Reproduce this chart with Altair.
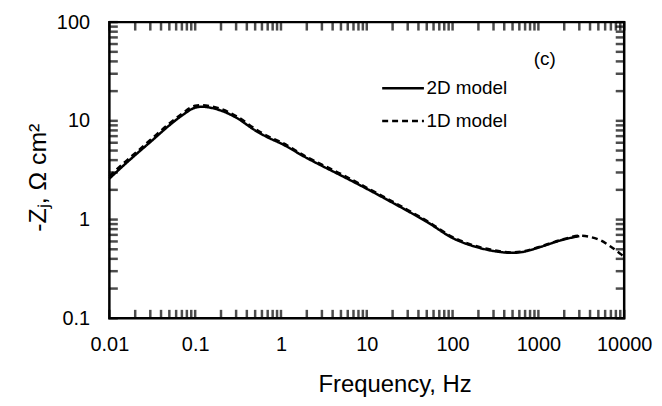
import altair as alt
import pandas as pd

# ---- data ----
freq_2d = [0.01, 0.015, 0.02, 0.03, 0.05, 0.07, 0.1, 0.12, 0.15, 0.2, 0.3, 0.5, 0.7,
           1, 2, 3, 5, 10, 20, 30, 50, 100, 200, 300, 500, 700, 1000, 2000, 3000]
z_2d = [2.6, 3.6, 4.5, 6.1, 9.0, 11.3, 13.6, 13.9, 13.6, 12.7, 10.8, 8.0, 6.8,
        5.9, 4.2, 3.5, 2.8, 2.05, 1.48, 1.22, 0.95, 0.65, 0.52, 0.48, 0.46, 0.475, 0.52, 0.63, 0.68]

freq_1d = [0.01, 0.015, 0.02, 0.03, 0.05, 0.07, 0.1, 0.12, 0.15, 0.2, 0.3, 0.5, 0.7,
           1, 2, 3, 5, 10, 20, 30, 50, 100, 200, 300, 500, 700, 1000, 2000, 3000,
           5000, 7000, 10000]
z_1d = [2.75, 3.8, 4.7, 6.4, 9.4, 11.8, 14.2, 14.4, 14.1, 13.2, 11.2, 8.3, 7.0,
        6.1, 4.3, 3.6, 2.9, 2.1, 1.52, 1.25, 0.97, 0.665, 0.53, 0.49, 0.465, 0.48, 0.525, 0.635, 0.685,
        0.63, 0.53, 0.42]

model_names = ["2D model", "1D model"]

# tick values
x_major = [0.01, 0.1, 1, 10, 100, 1000, 10000]
y_major = [0.1, 1, 10, 100]
x_minor = [0.02, 0.03, 0.04, 0.05, 0.06, 0.07, 0.08, 0.09,
           0.2, 0.3, 0.4, 0.5, 0.6, 0.7, 0.8, 0.9,
           2, 3, 4, 5, 6, 7, 8, 9,
           20, 30, 40, 50, 60, 70, 80, 90,
           200, 300, 400, 500, 600, 700, 800, 900,
           2000, 3000, 4000, 5000, 6000, 7000, 8000, 9000]
y_minor = [0.2, 0.3, 0.4, 0.5, 0.6, 0.7, 0.8, 0.9,
           2, 3, 4, 5, 6, 7, 8, 9,
           20, 30, 40, 50, 60, 70, 80, 90]

W, H = 518, 298

df = pd.concat([
    pd.DataFrame({"f": freq_2d, "z": z_2d, "model": model_names[0]}),
    pd.DataFrame({"f": freq_1d, "z": z_1d, "model": model_names[1]}),
], ignore_index=True)
xt = pd.DataFrame({"v": x_major + x_minor})
yt = pd.DataFrame({"v": y_major + y_minor})

xs = alt.Scale(type="log", domain=[0.01, 10000], nice=False)
ys = alt.Scale(type="log", domain=[0.1, 100], nice=False)

FONT = "Liberation Sans"

lines = alt.Chart(df).mark_line(color="black", strokeWidth=2.5, interpolate="monotone").encode(
    x=alt.X("f:Q", scale=xs, axis=alt.Axis(
        orient="bottom", values=x_major, format="~g", ticks=False, domain=False, grid=False,
        labelFlush=False, labelFontSize=20, labelFont=FONT, labelColor="black", labelPadding=16,
        title="Frequency, Hz", titleFont=FONT, titleFontSize=24, titleFontWeight="normal",
        titleColor="black", titleX=287, titleY=74, titleAlign="center", titleBaseline="alphabetic")),
    y=alt.Y("z:Q", scale=ys, axis=alt.Axis(
        orient="left", values=y_major, format="~g", ticks=False, domain=False, grid=False,
        labelFlush=False, labelFontSize=20, labelFont=FONT, labelColor="black", labelPadding=20,
        title="-Zⱼ, Ω cm²", titleFont=FONT, titleFontSize=25, titleFontWeight="normal",
        titleColor="black", titleX=-72, titleY=156, titleAngle=270,
        titleAlign="center", titleBaseline="middle")),
    strokeDash=alt.StrokeDash("model:N", scale=alt.Scale(domain=model_names, range=[[1, 0], [6, 4]]),
                              legend=alt.Legend(
                                  title=None, orient="none", legendX=273, legendY=44,
                                  symbolType="stroke", symbolSize=1764, symbolStrokeWidth=2.5,
                                  symbolStrokeColor="black", labelOffset=1, labelFont=FONT,
                                  labelFontSize=19, labelColor="black", rowPadding=0, padding=0)),
    order=alt.Order("model:N", sort="descending"),
)

# inward ticks on all four sides, placed through the shared log scales
ticks_bottom = alt.Chart(xt).mark_tick(color="black", thickness=2.5, size=9, orient="vertical").encode(
    x=alt.X("v:Q", scale=xs, axis=None), y=alt.value(H - 4))
ticks_top = alt.Chart(xt).mark_tick(color="black", thickness=2.5, size=9, orient="vertical").encode(
    x=alt.X("v:Q", scale=xs, axis=None), y=alt.value(4))
ticks_left = alt.Chart(yt).mark_tick(color="black", thickness=2.5, size=9, orient="horizontal").encode(
    y=alt.Y("v:Q", scale=ys, axis=None), x=alt.value(4))
ticks_right = alt.Chart(yt).mark_tick(color="black", thickness=2.5, size=9, orient="horizontal").encode(
    y=alt.Y("v:Q", scale=ys, axis=None), x=alt.value(W - 4))

panel_label = alt.Chart(pd.DataFrame({"t": ["(c)"]})).mark_text(
    font=FONT, fontSize=19, color="black", align="center", baseline="middle"
).encode(text="t:N", x=alt.value(438), y=alt.value(37))

chart = alt.layer(
    lines, ticks_bottom, ticks_top, ticks_left, ticks_right, panel_label
).resolve_axis(
    x="independent", y="independent"
).properties(
    width=W, height=H,
    autosize=alt.AutoSizeParams(type="none"),
    padding={"left": 102, "top": 13, "right": 30, "bottom": 79},
).configure_view(stroke="black", strokeWidth=2.5)

chart.save("out.html", embed_options={"renderer": "svg", "actions": False})
